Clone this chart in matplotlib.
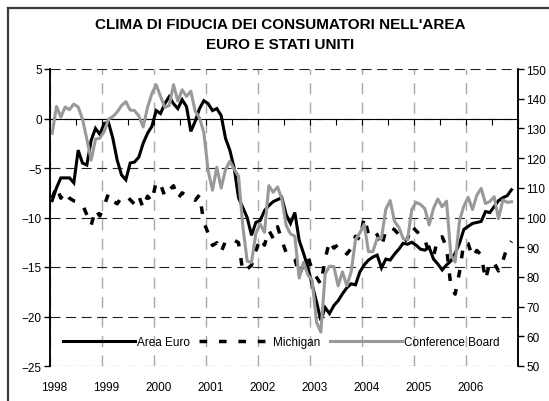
#!/usr/bin/env python3
"""Clima di fiducia dei consumatori: area euro (sx) e Stati Uniti (dx)."""

import matplotlib

matplotlib.use("Agg")

import matplotlib.pyplot as plt
import numpy as np
from matplotlib.lines import Line2D

plt.rcParams["font.family"] = ["Liberation Sans", "DejaVu Sans"]

TITLE = "CLIMA DI FIDUCIA DEI CONSUMATORI NELL'AREA\nEURO E STATI UNITI"
START_YEAR = 1998
YEARS = list(range(1998, 2007))

# monthly values, Jan 1998 - Nov 2006
AREA_EURO = [
    -8.3, -7.0, -6.0, -6.0, -6.0, -6.5, -3.2, -4.5, -4.7, -2.2, -1.0, -1.6,
    -0.5, -0.4, -2.0, -4.2, -5.7, -6.2, -4.5, -4.4, -3.9, -2.5, -1.5, -0.8,
    0.8, 0.5, 1.5, 2.2, 1.5, 1.0, 1.9, 1.2, -1.3, -0.3, 1.0, 1.8,
    1.5, 0.8, 1.0, 0.3, -2.0, -3.2, -5.0, -8.0, -9.0, -10.0, -11.8, -10.5,
    -10.3, -9.3, -8.8, -8.4, -8.2, -8.0, -9.7, -10.6, -9.5, -12.3, -13.6, -15.0,
    -16.8, -18.5, -20.4, -19.1, -19.7, -18.9, -18.4, -17.7, -17.1, -16.7, -16.8, -15.5,
    -14.8, -14.3, -14.0, -13.8, -15.1, -14.2, -14.3, -13.7, -13.2, -12.6, -12.7, -12.5,
    -12.8, -13.2, -13.3, -13.0, -14.2, -14.7, -15.3, -14.8, -14.4, -13.6, -12.6, -11.2,
    -10.9, -10.6, -10.5, -10.4, -9.4, -9.5, -8.9, -8.3, -8.0, -7.8, -7.2,
]
MICHIGAN = [
    106.6, 110.4, 106.5, 108.7, 106.5, 105.6, 105.2, 104.4, 100.9, 97.4, 102.7, 100.5,
    103.9, 108.1, 105.7, 104.6, 106.8, 107.3, 106.0, 104.5, 107.2, 103.2, 107.2, 105.4,
    112.0, 111.3, 107.1, 109.2, 110.7, 106.4, 108.3, 107.3, 106.8, 105.8, 107.6, 98.4,
    94.7, 90.6, 91.5, 88.4, 92.0, 92.6, 92.4, 91.5, 81.8, 82.7, 83.9, 88.8,
    93.0, 90.7, 95.7, 93.0, 96.9, 92.4, 88.1, 87.6, 86.1, 80.6, 84.2, 86.7,
    82.4, 79.9, 77.6, 86.0, 92.1, 89.7, 90.9, 89.3, 87.7, 89.6, 93.7, 92.6,
    100.0, 94.4, 95.8, 94.2, 90.2, 95.6, 96.7, 95.9, 94.2, 91.7, 92.8, 97.1,
    95.5, 94.1, 92.6, 87.7, 86.9, 93.0, 93.5, 90.0, 76.9, 74.2, 81.6, 91.5,
    91.2, 86.7, 88.9, 87.4, 79.1, 84.9, 84.7, 82.0, 85.4, 90.0, 92.0,
]
CONFERENCE_BOARD = [
    128.3, 137.4, 133.8, 137.2, 136.3, 138.2, 137.2, 133.1, 126.4, 119.3, 126.4, 126.7,
    128.9, 133.1, 134.0, 135.5, 137.7, 139.0, 136.2, 136.0, 134.2, 130.5, 137.0, 141.7,
    144.7, 140.8, 137.1, 137.7, 144.7, 139.2, 143.0, 140.8, 142.5, 135.8, 133.5, 128.6,
    115.7, 109.2, 116.9, 109.9, 116.1, 118.9, 116.3, 114.0, 97.0, 85.3, 84.9, 94.6,
    97.8, 95.0, 110.7, 108.5, 110.3, 106.3, 97.4, 94.5, 93.7, 79.6, 84.9, 80.7,
    78.8, 64.8, 61.4, 81.0, 83.6, 83.5, 77.0, 81.7, 77.0, 81.7, 92.5, 94.8,
    97.7, 88.5, 88.5, 93.0, 93.1, 102.8, 105.7, 98.7, 96.7, 92.9, 92.6, 102.7,
    105.1, 104.4, 103.0, 97.5, 103.1, 106.2, 103.6, 105.5, 87.5, 85.0, 98.9, 103.8,
    106.8, 102.7, 107.5, 109.8, 104.7, 105.4, 107.0, 99.6, 105.9, 105.1, 105.3,
]

GRAY = "#999999"
FS = 8.5


def month_positions(n):
    # mid-month, in decimal years
    return START_YEAR + (np.arange(n) + 0.5) / 12


def main():
    fig = plt.figure(figsize=(5.49, 4.02), dpi=100)
    ax = fig.add_axes([50 / 549, 1 - 367 / 402, 468 / 549, 297 / 402])
    ax2 = ax.twinx()

    x = month_positions(len(AREA_EURO))
    l1, = ax.plot(x, AREA_EURO, color="black", lw=2.2, solid_joinstyle="miter",
                  label="Area Euro")
    l2, = ax2.plot(x, MICHIGAN, color="black", lw=2.5, ls=(0, (2.2, 3.4)),
                   dash_capstyle="butt", label="Michigan")
    l3, = ax2.plot(x, CONFERENCE_BOARD, color=GRAY, lw=2.2, label="Conference Board")

    ax.set_xlim(START_YEAR, YEARS[-1] + 1)
    ax.set_ylim(-25, 5)
    ax2.set_ylim(50, 150)
    ax.set_yticks(np.arange(-25, 6, 5))
    ax2.set_yticks(np.arange(50, 151, 10))

    # horizontal dashed grid, vertical light-gray grid at each year
    ax.yaxis.grid(True, color="#222222", lw=0.8, ls=(0, (9, 5)))
    ax.set_xticks(np.arange(START_YEAR, YEARS[-1] + 1.01, 1.0))
    ax.set_xticks(np.arange(START_YEAR + 0.5, YEARS[-1] + 1, 1.0), minor=True)
    ax.xaxis.grid(True, which="major", color="#a8a8a8", lw=1.0, ls=(0, (8, 6)))
    ax.set_axisbelow(True)

    # category axis sits on zero, ticks every half year, labels drawn below
    ax.spines["bottom"].set_position(("data", 0))
    ax.spines["bottom"].set_linewidth(0.8)
    ax.spines["top"].set_visible(False)
    ax2.spines["top"].set_visible(False)
    ax2.spines["bottom"].set_visible(False)
    for sp in ("left", "right"):
        ax.spines[sp].set_linewidth(1.1)
        ax2.spines[sp].set_linewidth(1.1)
    ax.tick_params(axis="x", which="both", direction="out", length=4, width=0.8,
                   labelbottom=False)
    ax.tick_params(axis="y", direction="out", length=4, width=1, labelsize=FS,
                   pad=2)
    ax2.tick_params(axis="y", direction="out", length=4, width=1, labelsize=FS,
                    pad=2)

    sec = ax.secondary_xaxis(0.0)
    sec.set_xticks(np.array(YEARS) + 0.08, [str(y) for y in YEARS])
    sec.tick_params(length=0, labelsize=FS, pad=11)
    sec.spines["bottom"].set_visible(False)

    ax2.legend(handles=[l1, l2, l3], loc="center", bbox_to_anchor=(0.494, 0.081),
               ncol=3, frameon=False, fontsize=FS, handlelength=6.1,
               handletextpad=0.15, columnspacing=0.8, borderaxespad=0)

    fig.text(280 / 549, 1 - 35 / 402, TITLE, ha="center", va="center",
             fontsize=11, fontweight="bold", linespacing=1.5)

    # chart-area border (only top and left edges fall inside the picture)
    fig.add_artist(Line2D([8 / 549, 8 / 549], [0, 1 - 9 / 402], lw=1.6,
                          color="#3a3a3a", transform=fig.transFigure))
    fig.add_artist(Line2D([8 / 549, 1], [1 - 9 / 402, 1 - 9 / 402], lw=1.6,
                          color="#3a3a3a", transform=fig.transFigure))

    fig.savefig("out.png", dpi=100)


if __name__ == "__main__":
    main()
